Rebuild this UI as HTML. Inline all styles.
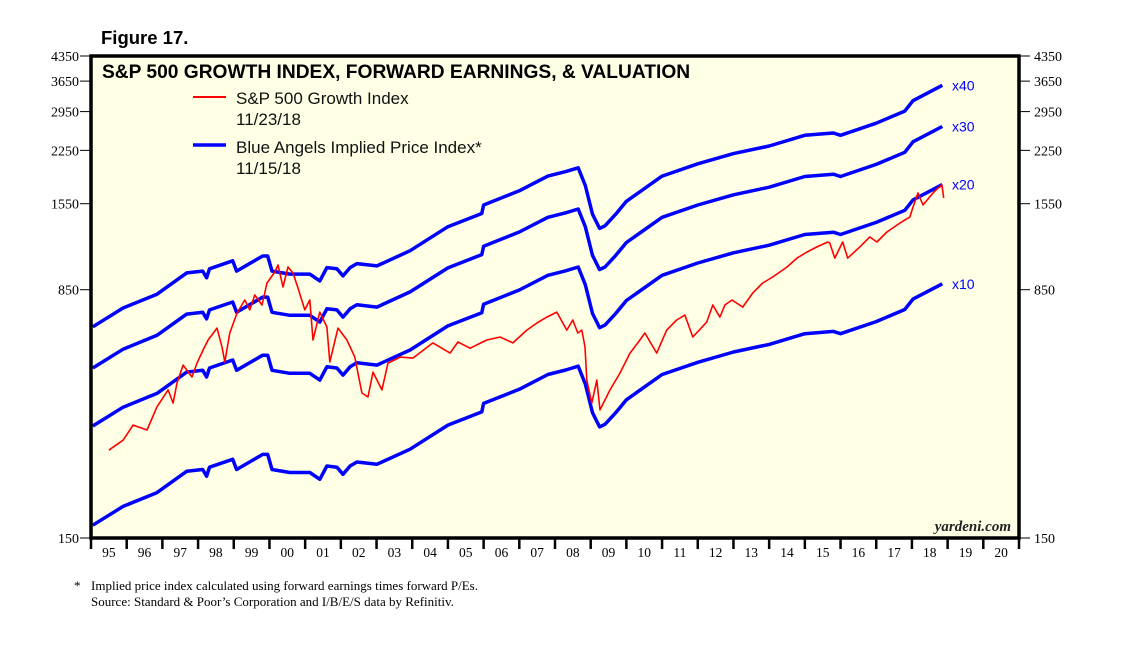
<!DOCTYPE html>
<html><head><meta charset="utf-8"><style>
body{margin:0;background:#fff;}
svg text{font-family:"Liberation Serif",serif;}
.sans{font-family:"Liberation Sans",sans-serif !important;}
</style></head><body>
<svg id="chart" width="1138" height="642" viewBox="0 0 1138 642">
<text class="sans" x="101" y="44" font-size="18.5" font-weight="bold">Figure 17.</text>
<rect x="91" y="56" width="928" height="482" fill="#ffffe6"/>
<g id="axes"></g>
<g id="series"></g>
<rect x="91" y="56" width="928" height="482" fill="none" stroke="#000" stroke-width="3.5"/>
<text class="sans" x="102" y="78" font-size="19.2" font-weight="bold">S&amp;P 500 GROWTH INDEX, FORWARD EARNINGS, &amp; VALUATION</text>
<line x1="193" y1="97" x2="226" y2="97" stroke="#f00" stroke-width="2"/>
<text class="sans" x="236" y="104" font-size="17" fill="#111">S&amp;P 500 Growth Index</text>
<text class="sans" x="236" y="125" font-size="17" fill="#111">11/23/18</text>
<line x1="193" y1="145" x2="226" y2="145" stroke="#00f" stroke-width="3.5"/>
<text class="sans" x="236" y="153" font-size="17" fill="#111">Blue Angels Implied Price Index*</text>
<text class="sans" x="236" y="174" font-size="17" fill="#111">11/15/18</text>
<text x="1011" y="531" font-size="15" font-weight="bold" font-style="italic" text-anchor="end" fill="#222">yardeni.com</text>
<text x="74" y="590" font-size="13">*</text>
<text x="91" y="590" font-size="13">Implied price index calculated using forward earnings times forward P/Es.</text>
<text x="91" y="606" font-size="13">Source: Standard &amp; Poor’s Corporation and I/B/E/S data by Refinitiv.</text>
</svg>
<script>
const yTicks=[150,850,1550,2250,2950,3650,4350];
const yearLabels=["95","96","97","98","99","00","01","02","03","04","05","06","07","08","09","10","11","12","13","14","15","16","17","18","19","20"];
const multiples=[10,20,30,40];
const multLabels=["x10","x20","x30","x40"];
const earnYears=[1995.05,1995.9,1996.85,1997.68,1998.13,1998.24,1998.32,1998.97,1999.08,1999.81,1999.95,2000.07,2000.57,2001.13,2001.41,2001.61,2001.89,2002.06,2002.26,2002.45,2003.01,2003.94,2005.0,2005.95,2006.0,2007.0,2007.8,2008.3,2008.65,2008.85,2009.05,2009.25,2009.4,2009.7,2010.0,2011.0,2012.0,2013.0,2014.0,2015.0,2015.8,2016.0,2017.0,2017.8,2018.03,2018.85];
const earnVals=[16.4,18.7,20.6,23.9,24.2,23.1,24.6,26.0,24.2,26.9,26.9,24.2,23.7,23.7,22.6,24.8,24.6,23.4,24.8,25.5,25.1,27.9,33.0,36.2,38.4,42.4,47.0,48.5,49.8,44.0,36.0,32.6,33.2,36.0,39.4,47.0,51.2,55.0,58.0,62.5,63.5,62.5,68.0,74.0,79.6,88.6];
const priceYears=[1995.50,1995.90,1996.18,1996.57,1996.85,1997.16,1997.30,1997.41,1997.58,1997.83,1997.97,1998.14,1998.28,1998.53,1998.67,1998.75,1998.89,1999.09,1999.31,1999.45,1999.59,1999.79,1999.93,2000.15,2000.24,2000.38,2000.52,2000.66,2000.80,2000.99,2001.13,2001.22,2001.41,2001.61,2001.69,2001.92,2002.17,2002.39,2002.59,2002.76,2002.90,2003.15,2003.32,2003.66,2004.02,2004.58,2005.06,2005.28,2005.62,2006.09,2006.46,2006.82,2007.21,2007.49,2007.77,2008.05,2008.33,2008.50,2008.64,2008.75,2008.84,2008.89,2009.03,2009.17,2009.26,2009.54,2009.82,2010.10,2010.32,2010.52,2010.85,2011.13,2011.41,2011.64,2011.86,2012.25,2012.42,2012.62,2012.76,2012.96,2013.26,2013.54,2013.82,2014.10,2014.50,2014.78,2015.06,2015.34,2015.64,2015.70,2015.84,2016.06,2016.20,2016.54,2016.82,2017.02,2017.30,2017.66,2017.94,2018.03,2018.17,2018.31,2018.59,2018.73,2018.84,2018.89];
const priceVals=[277,297,330,319,375,422,385,443,502,462,509,558,598,650,570,513,628,722,791,738,819,764,891,962,1010,866,996,955,860,738,791,598,727,655,513,650,598,531,413,402,478,422,509,531,527,586,546,590,565,598,611,586,641,673,702,727,641,688,628,641,570,452,385,452,367,422,475,546,586,628,546,641,688,712,611,678,764,702,764,791,753,830,891,929,996,1060,1106,1146,1186,1177,1060,1186,1060,1146,1229,1186,1272,1354,1412,1514,1670,1536,1670,1729,1766,1613,1568];

const NS="http://www.w3.org/2000/svg";
const L=91,R=1019,T=56,B=538,Y0=1995,Y1=2021;
const vmin=150,vmax=4350;
function xs(t){return L+(t-Y0)/(Y1-Y0)*(R-L);}
function ys(v){return B-Math.log(v/vmin)/Math.log(vmax/vmin)*(B-T);}
function mk(tag,attrs,parent){const e=document.createElementNS(NS,tag);for(const k in attrs)e.setAttribute(k,attrs[k]);parent.appendChild(e);return e;}
const ax=document.getElementById('axes'),se=document.getElementById('series');
yTicks.forEach(v=>{
  const y=ys(v);
  const t1=mk('line',{x1:80,x2:91,y1:y,y2:y,stroke:'#000','stroke-width':1},ax);
  
  
  const t2=mk('line',{x1:1019,x2:1030,y1:y,y2:y,stroke:'#000','stroke-width':1},ax);
  
  
  const a=mk('text',{x:79,y:y+5,'font-size':14,'text-anchor':'end'},ax);a.textContent=v;
  
  
  const b=mk('text',{x:1034,y:y+5,'font-size':14},ax);b.textContent=v;
  
  
});
for(let i=0;i<=yearLabels.length;i++){
  const x=xs(Y0+i);
  const t=mk('line',{x1:x,x2:x,y1:538,y2:549,stroke:'#000','stroke-width':2.5},ax);
  
  
  if(i<yearLabels.length){
    const l=mk('text',{x:xs(Y0+i+0.5),y:557,'font-size':13.5,'text-anchor':'middle'},ax);
    l.textContent=yearLabels[i];
    
    
  }
}
multiples.forEach((m,mi)=>{
  const d=earnYears.map((t,i)=>(i?'L':'M')+xs(t).toFixed(1)+','+ys(earnVals[i]*m).toFixed(1)).join(' ');
  const p=mk('path',{d:d,fill:'none',stroke:'#0000ff','stroke-width':3.5,'stroke-linejoin':'round'},se);
  
  
  const last=earnVals[earnVals.length-1]*m;
  const lb=mk('text',{x:952,y:ys(last)+5,'font-size':14,fill:'#0000ff',class:'sans'},se);
  lb.textContent=multLabels[mi];
  
  
});
const rd=priceYears.map((t,i)=>(i?'L':'M')+xs(t).toFixed(1)+','+ys(priceVals[i]).toFixed(1)).join(' ');
const rp=mk('path',{d:rd,fill:'none',stroke:'#ff0000','stroke-width':1.6,'stroke-linejoin':'round'},se);


</script>
</body></html>
